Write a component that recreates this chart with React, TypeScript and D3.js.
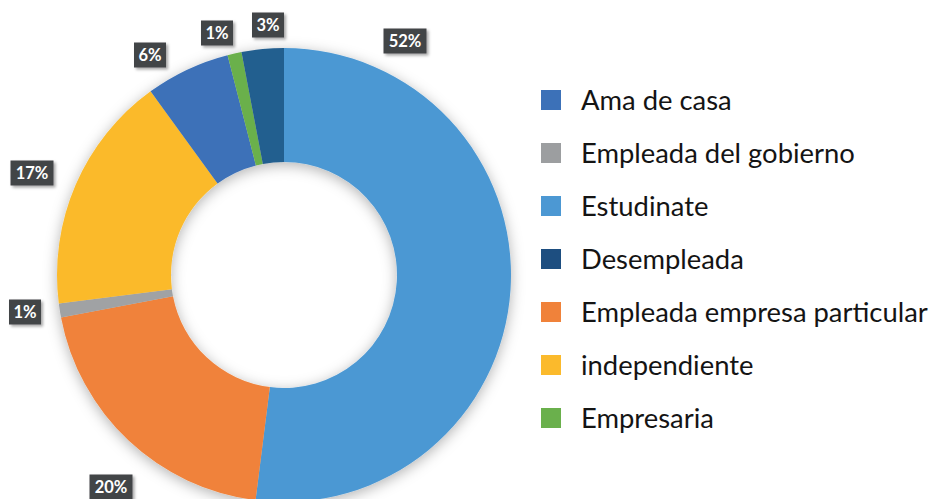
import React from "react";
import * as d3 from "d3";

const categories = [
  "Estudinate",
  "Empleada empresa particular",
  "Empleada del gobierno",
  "independiente",
  "Ama de casa",
  "Empresaria",
  "Desempleada",
];
const values = [52, 20, 1, 17, 6, 1, 3];
const labels = ["52%", "20%", "1%", "17%", "6%", "1%", "3%"];
const colors = ["#4C98D3", "#F0823A", "#A0A2A4", "#FBBA2C", "#3C71B8", "#6AB04C", "#245E8F"];

const legendOrder = [
  "Ama de casa",
  "Empleada del gobierno",
  "Estudinate",
  "Desempleada",
  "Empleada empresa particular",
  "independiente",
  "Empresaria",
];
const legendColors = ["#3C71B8", "#9C9EA0", "#4C98D3", "#1D4E80", "#F0823A", "#FBBA2C", "#6AB04C"];

// label anchor positions (layout, px)
const labelPos: [number, number][] = [
  [405, 41],
  [111, 487],
  [25, 312],
  [32, 173],
  [150, 55],
  [217, 33],
  [268, 25],
];

export default function App() {
  const W = 933, H = 499;
  const cx = 284, cy = 275, R = 227, r = 113;
  const pie = d3.pie<number>().sort(null).value((d) => d).startAngle(0).endAngle(2 * Math.PI);
  const arcs = pie(values);
  const arc = d3.arc<d3.PieArcDatum<number>>().innerRadius(r).outerRadius(R);
  const legendY = d3.scalePoint<string>().domain(legendOrder).range([100, 418]);

  return (
    <svg width={W} height={H} style={{ position: "absolute", left: 0, top: 0, background: "#fff" }}>
      <defs>
        <filter id="sh" x="-20%" y="-20%" width="140%" height="140%">
          <feDropShadow dx="0" dy="3" stdDeviation="7" floodColor="#000" floodOpacity="0.3" />
        </filter>
        <filter id="bs" x="-30%" y="-30%" width="160%" height="160%">
          <feDropShadow dx="2" dy="2" stdDeviation="1.5" floodColor="#000" floodOpacity="0.35" />
        </filter>
      </defs>
      <g transform={`translate(${cx},${cy})`} filter="url(#sh)">
        {arcs.map((a, i) => (
          <path key={i} d={arc(a) || ""} fill={colors[i]} />
        ))}
      </g>
      {labels.map((t, i) => {
        const [x, y] = labelPos[i];
        const w = t.length === 3 ? 43 : 32;
        return (
          <g key={i} transform={`translate(${x},${y})`}>
            <rect x={-w / 2} y={-12.5} width={w} height={25} fill="#434546" filter="url(#bs)" />
            <text
              textAnchor="middle"
              dy="0.36em"
              fill="#fff"
              fontFamily="Lato, sans-serif"
              fontWeight="bold"
              fontSize={16.5}
            >
              {t}
            </text>
          </g>
        );
      })}
      {legendOrder.map((c, i) => {
        const y = legendY(c) as number;
        return (
          <g key={c}>
            <rect x={541} y={y - 10} width={20} height={20} fill={legendColors[i]} />
            <text x={581} y={y} dy="0.35em" fontFamily="Lato, sans-serif" fontSize={27.4} fill="#141414">
              {c}
            </text>
          </g>
        );
      })}
    </svg>
  );
}
